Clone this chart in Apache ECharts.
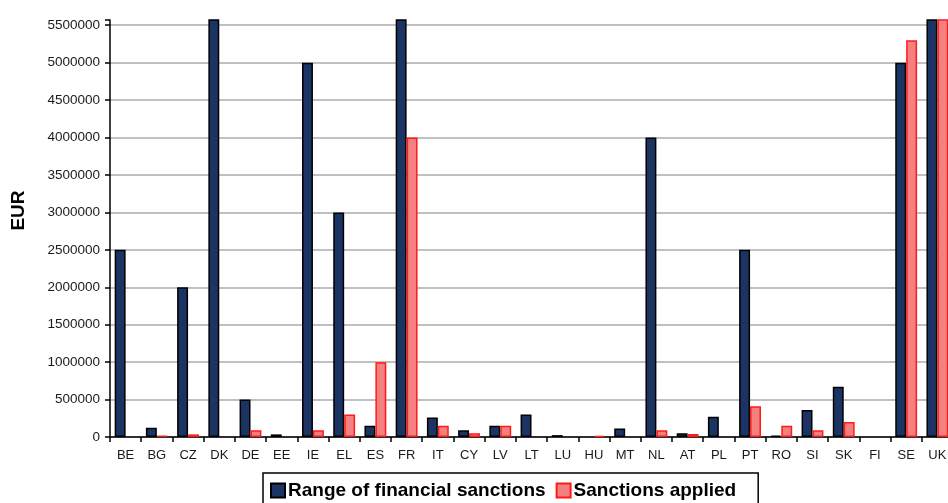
<!DOCTYPE html>
<html><head><meta charset="utf-8">
<script src="https://cdn.jsdelivr.net/npm/echarts@6/dist/echarts.min.js"></script>
<style>html,body{margin:0;padding:0;background:#fff}#c{width:948px;height:503px}</style>
</head><body><div id="c"></div>
<script>
const categories = ['BE','BG','CZ','DK','DE','EE','IE','EL','ES','FR','IT','CY','LV','LT','LU','HU','MT','NL','AT','PL','PT','RO','SI','SK','FI','SE','UK'];
const rangeSanctions = [2500000,125000,2000000,6000000,500000,35000,5000000,3000000,150000,6000000,260000,90000,150000,300000,25000,0,115000,4000000,50000,270000,2500000,20000,360000,670000,0,5000000,6000000];
const appliedSanctions = [0,20000,35000,0,90000,0,90000,300000,1000000,4000000,150000,50000,150000,0,0,15000,0,90000,40000,0,410000,150000,90000,200000,0,5300000,6000000];
const yTickInterval = 500000;
const yMax = 5570000;

const chart = echarts.init(document.getElementById('c'));
const gridColors = [];
for (let v = 0; v <= 5500000; v += yTickInterval) gridColors.push('#c0c0c0');
gridColors.push('rgba(0,0,0,0)');
const noZero = arr => arr.map(v => (v === 0 ? null : v));
chart.setOption({
  animation: false,
  textStyle: {fontFamily: 'Liberation Sans, Arial, sans-serif'},
  grid: {left: 110, right: -5, top: 20, bottom: 66, containLabel: false, outerBoundsMode: 'none'},
  legend: {
    left: 263, top: 473,
    icon: 'rect',
    data: ['Range of financial sanctions', 'Sanctions applied'],
    borderColor: '#000', borderWidth: 1.5, padding: [8, 22, 8, 7],
    itemWidth: 14, itemHeight: 14, itemGap: 10,
    textStyle: {fontSize: 19, fontWeight: 'bold', color: '#000', padding: [0, 0, 0, -2], fontFamily: 'Liberation Sans, Arial, sans-serif'}
  },
  xAxis: {
    type: 'category', data: categories,
    axisLine: {lineStyle: {color: '#000', width: 1.5}},
    axisTick: {show: true, length: 5, lineStyle: {color: '#000', width: 1.5}},
    axisLabel: {fontSize: 13, color: '#1a1a1a', margin: 12}
  },
  yAxis: {
    type: 'value', min: 0, max: yMax, interval: yTickInterval,
    name: 'EUR', nameLocation: 'middle', nameGap: 82,
    nameTextStyle: {fontSize: 19, fontWeight: 'bold', color: '#000', padding: [0, 0, 0, 36]},
    axisLine: {show: true, lineStyle: {color: '#000', width: 1.5}},
    axisTick: {show: true, length: 5, lineStyle: {color: '#000', width: 1.5}},
    axisLabel: {fontSize: 13.5, color: '#1a1a1a', margin: 10,
      formatter: v => (v % yTickInterval === 0 ? String(v) : '')},
    splitLine: {show: true, lineStyle: {color: gridColors, width: 2}}
  },
  series: [
    {name: 'Range of financial sanctions', type: 'bar', data: noZero(rangeSanctions),
     barGap: '0%', barCategoryGap: '30%', clip: true,
     itemStyle: {color: '#1b3464', borderColor: '#000', borderWidth: 1.5}},
    {name: 'Sanctions applied', type: 'bar', data: noZero(appliedSanctions), clip: true,
     itemStyle: {color: '#f48080', borderColor: '#ff1a1a', borderWidth: 1.5}}
  ]
});
</script></body></html>
